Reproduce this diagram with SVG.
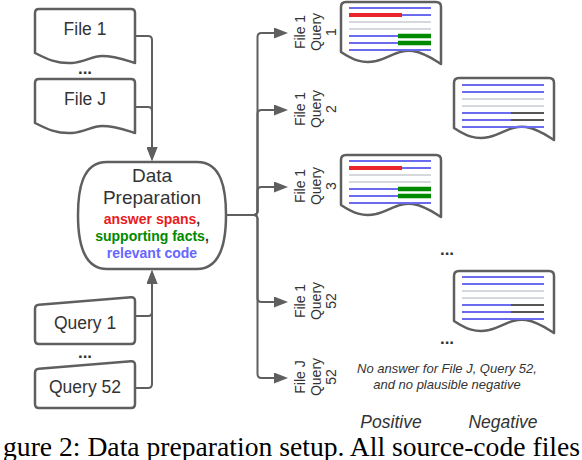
<svg xmlns="http://www.w3.org/2000/svg" xmlns:xlink="http://www.w3.org/1999/xlink" width="582" height="460" viewBox="0 0 582 460">
<style>
.shape{fill:#fff;stroke:#5f5f5f;stroke-width:2.5;stroke-linejoin:round}
.conn{fill:none;stroke:#5f5f5f;stroke-width:2}
.lbl{font-family:"Liberation Sans",Arial,sans-serif;font-size:17.5px;fill:#333;text-anchor:middle}
.dots{font-family:"Liberation Sans",Arial,sans-serif;font-size:17px;font-weight:bold;fill:#333;text-anchor:middle}
.big{font-family:"Liberation Sans",Arial,sans-serif;font-size:19px;fill:#333;text-anchor:middle}
.hl{font-family:"Liberation Sans",Arial,sans-serif;font-size:14px;font-weight:bold;text-anchor:middle}
.rl{font-family:"Liberation Sans",Arial,sans-serif;font-size:14px;fill:#333;text-anchor:middle}
.it{font-family:"Liberation Sans",Arial,sans-serif;font-style:italic;fill:#333;text-anchor:middle}
.bl{stroke:#6b6bf0;stroke-width:2}
.gr{stroke:#d5d9de;stroke-width:2}
.dk{stroke:#555;stroke-width:2}
.rd{stroke:#e8262b;stroke-width:4}
.gn{stroke:#008a00;stroke-width:4.5}
</style>
<defs>
<marker id="ah" markerUnits="userSpaceOnUse" viewBox="0 0 14 11" markerWidth="14" markerHeight="11" refX="10" refY="5.5" orient="auto">
<path d="M0,0 L14,5.5 L0,11 Z" fill="#5f5f5f"/>
</marker>
<path id="doc" d="M0,5 Q0,0 5,0 H95 Q100,0 100,5 V62 C92,57 84,51 72,49 C58,47 50,55 35,59 C22,62 12,58 0,50 Z"/>
<g id="posLines">
<line class="bl" x1="8" y1="6" x2="90" y2="6"/>
<line class="bl" x1="61" y1="13" x2="90" y2="13"/>
<line class="rd" x1="8" y1="13" x2="61" y2="13"/>
<line class="gr" x1="8" y1="20" x2="90" y2="20"/>
<line class="gr" x1="8" y1="27" x2="90" y2="27"/>
<line class="bl" x1="8" y1="34" x2="57" y2="34"/>
<line class="gn" x1="57" y1="34" x2="90" y2="34"/>
<line class="bl" x1="8" y1="41" x2="57" y2="41"/>
<line class="gn" x1="57" y1="41" x2="90" y2="41"/>
<line class="bl" x1="8" y1="48" x2="90" y2="48"/>
</g>
<g id="negLines">
<line class="bl" x1="8" y1="6" x2="90" y2="6"/>
<line class="bl" x1="8" y1="13" x2="90" y2="13"/>
<line class="gr" x1="8" y1="20" x2="90" y2="20"/>
<line class="gr" x1="8" y1="27" x2="90" y2="27"/>
<line class="bl" x1="8" y1="34" x2="57" y2="34"/>
<line class="dk" x1="57" y1="34" x2="90" y2="34"/>
<line class="bl" x1="8" y1="41" x2="57" y2="41"/>
<line class="dk" x1="57" y1="41" x2="90" y2="41"/>
<line class="bl" x1="8" y1="48" x2="90" y2="48"/>
</g>
</defs>

<g id="connectors">
<path class="conn" d="M135,36 H148 Q152,36 152,40 V157" marker-end="url(#ah)"/>
<path class="conn" d="M135,107 H148 Q152,107 152,111 V157" marker-end="url(#ah)"/>
<path class="conn" d="M135,316 H148 Q152,316 152,312 V274" marker-end="url(#ah)"/>
<path class="conn" d="M135,388 H148 Q152,388 152,384 V274" marker-end="url(#ah)"/>
<path class="conn" d="M226,215 H253.5 Q257.5,215 257.5,211 V37 Q257.5,33 261.5,33 H284" marker-end="url(#ah)"/>
<path class="conn" d="M226,215 H253.5 Q257.5,215 257.5,211 V114 Q257.5,110 261.5,110 H284" marker-end="url(#ah)"/>
<path class="conn" d="M226,215 H253.5 Q257.5,215 257.5,211 V191 Q257.5,187 261.5,187 H284" marker-end="url(#ah)"/>
<path class="conn" d="M226,215 H253.5 Q257.5,215 257.5,219 V298 Q257.5,302 261.5,302 H284" marker-end="url(#ah)"/>
<path class="conn" d="M226,215 H253.5 Q257.5,215 257.5,219 V374 Q257.5,378 261.5,378 H284" marker-end="url(#ah)"/>
</g>

<g id="file1">
<path class="shape" d="M35,13 Q35,9 39,9 H131 Q135,9 135,13 V63 C125,60 115,56 102,56 C92,56 85,62 72,63 C57,64 47,59 35,53 Z"/>
<text class="lbl" x="85" y="35">File 1</text>
</g>
<text class="dots" x="85" y="74">...</text>
<g id="fileJ">
<path class="shape" d="M35,83 Q35,79 39,79 H131 Q135,79 135,83 V133 C125,130 115,126 102,126 C92,126 85,132 72,133 C57,134 47,129 35,123 Z"/>
<text class="lbl" x="85" y="105">File J</text>
</g>

<g id="dataPrep">
<path class="shape" d="M107,162 H197 C222,162 226,190 226,215 C226,240 222,269 197,269 H107 C82,269 78,240 78,215 C78,190 82,162 107,162 Z"/>
<text class="big" x="152" y="182">Data</text>
<text class="big" x="152" y="204">Preparation</text>
<text class="hl" x="152" y="224"><tspan fill="#e81c1c">answer spans</tspan><tspan fill="#333">,</tspan></text>
<text class="hl" x="152" y="241"><tspan fill="#008a00">supporting facts</tspan><tspan fill="#333">,</tspan></text>
<text class="hl" x="152" y="258" fill="#6666ff">relevant code</text>
</g>

<g id="query1">
<path class="shape" d="M35,309 Q35,305 39,304.7 L131,297.3 Q135,297 135,301 V340 Q135,344 131,344 H39 Q35,344 35,340 Z"/>
<text class="lbl" x="85" y="329">Query 1</text>
</g>
<text class="dots" x="85" y="358">...</text>
<g id="query52">
<path class="shape" d="M35,373 Q35,369 39,368.7 L131,361.3 Q135,361 135,365 V404 Q135,408 131,408 H39 Q35,408 35,404 Z"/>
<text class="lbl" x="85" y="393">Query 52</text>
</g>

<g id="label-f1q1">
<text class="rl" transform="translate(305,32) rotate(-90)">File 1</text>
<text class="rl" transform="translate(320.5,32) rotate(-90)">Query</text>
<text class="rl" transform="translate(336,32) rotate(-90)">1</text>
</g>
<g id="label-f1q2">
<text class="rl" transform="translate(305,109) rotate(-90)">File 1</text>
<text class="rl" transform="translate(320.5,109) rotate(-90)">Query</text>
<text class="rl" transform="translate(336,109) rotate(-90)">2</text>
</g>
<g id="label-f1q3">
<text class="rl" transform="translate(305,186) rotate(-90)">File 1</text>
<text class="rl" transform="translate(320.5,186) rotate(-90)">Query</text>
<text class="rl" transform="translate(336,186) rotate(-90)">3</text>
</g>
<g id="label-f1q52">
<text class="rl" transform="translate(305,301) rotate(-90)">File 1</text>
<text class="rl" transform="translate(320.5,301) rotate(-90)">Query</text>
<text class="rl" transform="translate(336,301) rotate(-90)">52</text>
</g>
<g id="label-fJq52">
<text class="rl" transform="translate(305,377) rotate(-90)">File J</text>
<text class="rl" transform="translate(320.5,377) rotate(-90)">Query</text>
<text class="rl" transform="translate(336,377) rotate(-90)">52</text>
</g>

<g id="pos-q1" transform="translate(341,2)">
<use xlink:href="#doc" class="shape"/>
<use xlink:href="#posLines"/>
</g>
<g id="neg-q2" transform="translate(454,78)">
<use xlink:href="#doc" class="shape"/>
<use xlink:href="#negLines" transform="translate(0,1)"/>
</g>
<g id="pos-q3" transform="translate(341,155)">
<use xlink:href="#doc" class="shape"/>
<use xlink:href="#posLines"/>
</g>
<text class="dots" x="447" y="255">...</text>
<g id="neg-q52" transform="translate(454,271)">
<use xlink:href="#doc" class="shape"/>
<use xlink:href="#negLines"/>
</g>
<text class="dots" x="447" y="344">...</text>

<text class="it" x="447" y="373" font-size="13">No answer for File J, Query 52,</text>
<text class="it" x="447" y="389" font-size="13">and no plausible negative</text>
<text class="it" x="391" y="428" font-size="17.5">Positive</text>
<text class="it" x="503" y="428" font-size="17.5">Negative</text>

<text x="3" y="456" font-family="Liberation Serif,'Times New Roman',serif" font-size="27" fill="#000" textLength="577" lengthAdjust="spacingAndGlyphs">gure 2: Data preparation setup. All source-code files</text>
</svg>
